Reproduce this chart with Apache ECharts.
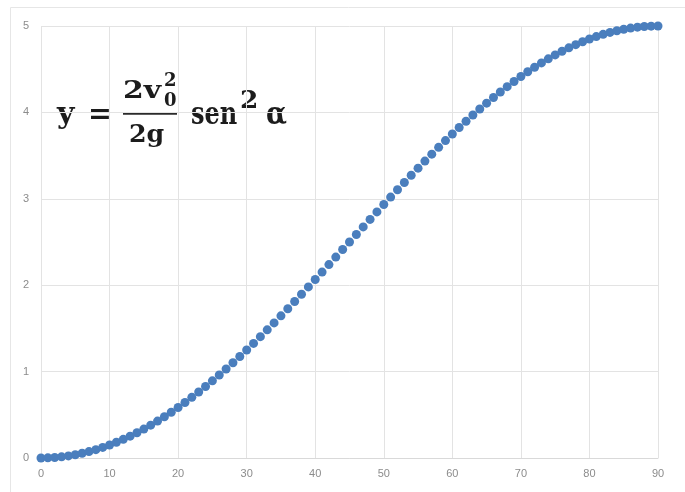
<!DOCTYPE html>
<html>
<head>
<meta charset="utf-8">
<script src="https://cdn.jsdelivr.net/npm/echarts@6/dist/echarts.min.js"></script>
<style>html,body{margin:0;padding:0;background:#fff;}#c{width:685px;height:492px;}</style>
</head>
<body>
<div id="c"></div>
<script>
const angles = [0,1,2,3,4,5,6,7,8,9,10,11,12,13,14,15,16,17,18,19,20,21,22,23,24,25,26,27,28,29,30,31,32,33,34,35,36,37,38,39,40,41,42,43,44,45,46,47,48,49,50,51,52,53,54,55,56,57,58,59,60,61,62,63,64,65,66,67,68,69,70,71,72,73,74,75,76,77,78,79,80,81,82,83,84,85,86,87,88,89,90];
const heights = [0,0.0015,0.0061,0.0137,0.0243,0.0380,0.0546,0.0742,0.0968,0.1224,0.1508,0.1821,0.2161,0.2530,0.2926,0.3349,0.3799,0.4274,0.4775,0.5300,0.5849,0.6422,0.7017,0.7634,0.8272,0.8930,0.9609,1.0305,1.1020,1.1752,1.25,1.3263,1.4041,1.4832,1.5635,1.6450,1.7275,1.8109,1.8952,1.9802,2.0659,2.1521,2.2387,2.3256,2.4128,2.5,2.5872,2.6744,2.7613,2.8479,2.9341,3.0198,3.1048,3.1891,3.2725,3.3550,3.4365,3.5168,3.5959,3.6737,3.75,3.8248,3.8980,3.9695,4.0391,4.1070,4.1728,4.2366,4.2983,4.3578,4.4151,4.4700,4.5225,4.5726,4.6201,4.6651,4.7074,4.7470,4.7839,4.8179,4.8492,4.8776,4.9032,4.9258,4.9454,4.9620,4.9757,4.9863,4.9939,4.9985,5];
const xTicks = [0,10,20,30,40,50,60,70,80,90];
const yTicks = [0,1,2,3,4,5];

const chart = echarts.init(document.getElementById('c'), null, {renderer:'canvas'});
const F = '"DejaVu Serif", serif';
const tc = '#1c1c1c';
function t(txt, x, y, size, sx, sy) {
  return {type:'text', x:x, y:y, scaleX:sx||1, scaleY:sy||1, silent:true,
    style:{text:txt, font:'bold '+size+'px '+F, fill:tc, verticalAlign:'middle', align:'left'}};
}
chart.setOption({
  animation:false,
  grid:{left:41, right:27, top:26, bottom:34},
  xAxis:{type:'value', min:xTicks[0], max:xTicks[xTicks.length-1], interval:10,
    axisLine:{show:true, lineStyle:{color:'#d9d9d9'}}, axisTick:{show:false},
    axisLabel:{color:'#8c8c8c', fontSize:11, fontFamily:'Arial, "Liberation Sans"', margin:10},
    splitLine:{show:true, lineStyle:{color:'#e3e3e3'}}},
  yAxis:{type:'value', min:yTicks[0], max:yTicks[yTicks.length-1], interval:1,
    axisLine:{show:false}, axisTick:{show:false},
    axisLabel:{color:'#8c8c8c', fontSize:11, fontFamily:'Arial, "Liberation Sans"', margin:12},
    splitLine:{show:true, lineStyle:{color:'#e3e3e3'}}},
  series:[{type:'scatter', symbol:'circle', symbolSize:9,
    itemStyle:{color:'#4a7ebd', opacity:1},
    data: angles.map((a,i)=>[a, heights[i]])}],
  graphic:[
    {type:'rect', shape:{x:10.5,y:7.5,width:700,height:500}, style:{fill:'none', stroke:'#e6e6e6', lineWidth:1}, silent:true},
    t('y', 57, 115, 30),
    t('=', 88, 115, 30, 0.95),
    t('2v', 123, 92, 23, 1.3, 1.05),
    t('0', 164, 101.5, 18),
    t('2', 164, 81.5, 18),
    {type:'line', shape:{x1:123,y1:113.5,x2:177,y2:113.5}, style:{stroke:'#2a2a2a', lineWidth:2.5}, silent:true},
    t('2g', 129, 136, 23, 1.1, 1.05),
    t('sen', 191, 116, 32, 0.75),
    t('2', 240, 102, 24, 1.1),
    t('α', 266, 116, 32, 0.85)
  ]
});
</script>
</body>
</html>
